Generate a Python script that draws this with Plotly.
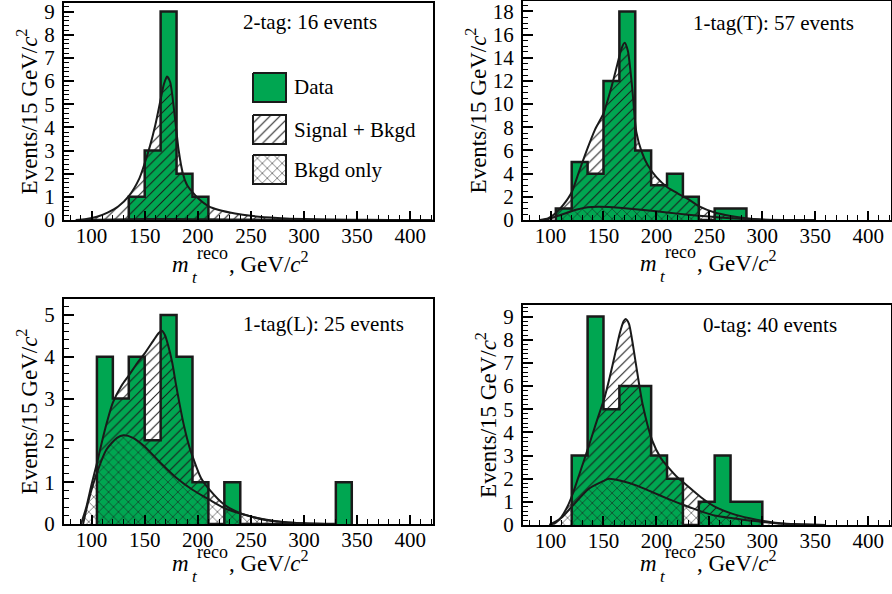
import plotly.graph_objects as go

W, H = 892, 594
GREEN = "#00A651"
INK = "#1a1a1a"
FONT = "Liberation Serif, Times New Roman, serif"
BIN_WIDTH = 15
CLEAR = "rgba(0,0,0,0)"

# ---------------- data ----------------
# 2-tag
BINS_2TAG = [135, 150, 165, 180, 195]
COUNTS_2TAG = [1, 3, 9, 2, 1]
SB_X_2TAG = [85, 95, 105, 115, 125, 135, 145, 150, 155, 160, 165, 168, 171, 174, 178,
             182, 186, 190, 195, 200, 210, 220, 235, 250, 275, 300, 340, 380, 421]
SB_Y_2TAG = [0.0, 0.04, 0.14, 0.32, 0.58, 1.03, 1.8, 2.45, 3.2, 4.1, 5.2, 5.85, 6.2, 5.95, 4.6,
             3.0, 2.0, 1.5, 1.2, 0.95, 0.6, 0.43, 0.28, 0.18, 0.09, 0.04, 0.015, 0.005, 0.0]
BG_X_2TAG = [90, 120, 150, 180, 210, 250, 300, 350]
BG_Y_2TAG = [0.0, 0.02, 0.04, 0.04, 0.03, 0.02, 0.01, 0.0]

# 1-tag(T)
BINS_1T = [105, 120, 135, 150, 165, 180, 195, 210, 225, 240, 255, 270]
COUNTS_1T = [1, 5, 4, 12, 18, 6, 3, 4, 2, 0, 1, 1]
SB_X_1T = [90, 98, 105, 112, 120, 127, 135, 142, 150, 157, 163, 167, 170, 173, 177, 181,
           186, 192, 200, 210, 220, 230, 240, 255, 270, 285, 300, 320, 350]
SB_Y_1T = [0.0, 0.15, 0.6, 1.3, 2.4, 4.2, 6.2, 7.8, 9.2, 11.3, 13.4, 14.8, 15.3, 14.6, 11.5, 7.6,
           5.9, 4.7, 3.7, 2.85, 2.3, 1.8, 1.2, 0.65, 0.35, 0.15, 0.05, 0.01, 0.0]
BG_X_1T = [95, 105, 115, 125, 135, 145, 155, 165, 180, 200, 220, 240, 260, 280, 300, 320]
BG_Y_1T = [0.0, 0.3, 0.6, 0.9, 1.1, 1.15, 1.12, 1.05, 0.92, 0.75, 0.55, 0.37, 0.22, 0.1, 0.03, 0.0]

# 1-tag(L)
BINS_1L = [105, 120, 135, 150, 165, 180, 195, 210, 225, 240, 255, 270, 285, 300, 315, 330]
COUNTS_1L = [4, 3, 4, 2, 5, 4, 1, 0, 1, 0, 0, 0, 0, 0, 0, 1]
SB_X_1L = [90, 95, 100, 105, 112, 120, 128, 135, 143, 150, 158, 163, 166, 169, 172, 176,
           179, 183, 187, 192, 196, 203, 211, 225, 240, 255, 265, 280, 300, 320]
SB_Y_1L = [0.0, 0.4, 0.95, 1.45, 2.2, 2.9, 3.3, 3.55, 3.85, 4.08, 4.38, 4.56, 4.62, 4.52, 4.28, 3.85,
           3.4, 2.85, 2.35, 1.85, 1.55, 1.1, 0.82, 0.46, 0.26, 0.15, 0.1, 0.05, 0.015, 0.0]
BG_X_1L = [92, 97, 105, 114, 124, 130, 139, 150, 165, 180, 195, 211, 225, 240, 265, 296, 320]
BG_Y_1L = [0.0, 0.55, 1.22, 1.78, 2.06, 2.12, 2.06, 1.85, 1.46, 1.1, 0.82, 0.58, 0.38, 0.25, 0.09, 0.02, 0.0]

# 0-tag
BINS_0T = [120, 135, 150, 165, 180, 195, 210, 225, 240, 255, 270, 285]
COUNTS_0T = [3, 9, 5, 6, 6, 3, 2, 0, 1, 3, 1, 1]
SB_X_0T = [99, 105, 110, 116, 121, 128, 136, 143, 151, 156, 161, 165.5, 169, 171, 174, 177,
           181.5, 187, 196, 204, 211, 220, 227, 242, 256, 272, 288, 303, 320, 340, 360]
SB_Y_0T = [0.0, 0.1, 0.33, 0.8, 1.35, 2.3, 3.4, 4.4, 5.5, 6.4, 7.4, 8.3, 8.8, 8.9, 8.7, 8.0,
           6.7, 5.2, 3.65, 2.9, 2.5, 2.05, 1.78, 1.2, 0.77, 0.48, 0.29, 0.16, 0.06, 0.02, 0.0]
BG_X_0T = [99, 110, 121, 136, 151, 155, 165.5, 181.5, 196, 211, 227, 242, 256, 272, 288, 303, 320, 340, 360]
BG_Y_0T = [0.0, 0.3, 0.84, 1.56, 1.92, 2.0, 1.92, 1.7, 1.42, 1.13, 0.84, 0.59, 0.4, 0.29, 0.19, 0.12, 0.05, 0.02, 0.0]

LABELS = ["2-tag: 16 events", "1-tag(T): 57 events", "1-tag(L): 25 events", "0-tag: 40 events"]
LEGEND_NAMES = ["Data", "Signal + Bkgd", "Bkgd only"]
X_RANGE = [74, 421.5]
# x-axis title pieces: symbol, subscript, superscript, units
XT_MAIN = "<i>m</i>"
XT_SUB = "<i>t</i>"
XT_SUP = "reco"
XT_UNIT = ", GeV/<i>c</i><sup>2</sup>"
Y_TITLE = "Events/15 GeV/<i>c</i><sup>2</sup>"


def hatch(shape, size=7):
    return dict(shape=shape, fgcolor=INK, bgcolor=CLEAR, fgopacity=1, size=size,
                solidity=0.15, fillmode="replace")


# ---------------- layout of panels (pixels) ----------------
panels = [
    dict(lo=BINS_2TAG, n=COUNTS_2TAG, sbx=SB_X_2TAG, sby=SB_Y_2TAG, bgx=BG_X_2TAG, bgy=BG_Y_2TAG,
         px=(64, 433), py=(3, 220), ymax=9.37, dt=1, mdt=0.2, lab=(310, 22), xt=(242, 272)),
    dict(lo=BINS_1T, n=COUNTS_1T, sbx=SB_X_1T, sby=SB_Y_1T, bgx=BG_X_1T, bgy=BG_Y_1T,
         px=(523, 891), py=(1, 220), ymax=18.9, dt=2, mdt=0.5, lab=(773, 23), xt=(710, 271)),
    dict(lo=BINS_1L, n=COUNTS_1L, sbx=SB_X_1L, sby=SB_Y_1L, bgx=BG_X_1L, bgy=BG_Y_1L,
         px=(64, 433), py=(299, 524), ymax=5.38, dt=1, mdt=0.2, lab=(323, 324), xt=(242, 571)),
    dict(lo=BINS_0T, n=COUNTS_0T, sbx=SB_X_0T, sby=SB_Y_0T, bgx=BG_X_0T, bgy=BG_Y_0T,
         px=(523, 891), py=(305, 525), ymax=9.5, dt=1, mdt=0.2, lab=(770, 325), xt=(710, 571)),
]


def text_left(text, left_px, baseline_px, size):
    bottom = baseline_px + 0.216 * size
    return dict(text=text, x=left_px / W, y=1 - bottom / H, xref="paper", yref="paper",
                xanchor="left", yanchor="bottom", showarrow=False, borderpad=0, borderwidth=0,
                font=dict(family=FONT, size=size, color="black"))


def text_center(text, cx_px, baseline_px, size):
    cy = baseline_px - 0.3375 * size
    return dict(text=text, x=cx_px / W, y=1 - cy / H, xref="paper", yref="paper",
                xanchor="center", yanchor="middle", showarrow=False, borderpad=0, borderwidth=0,
                font=dict(family=FONT, size=size, color="black"))


fig = go.Figure()
annotations = []
for i, p in enumerate(panels, start=1):
    xa = "x" if i == 1 else f"x{i}"
    ya = "y" if i == 1 else f"y{i}"
    edges_end = p["lo"][-1] + BIN_WIDTH
    sx = [p["lo"][0]] + list(p["lo"]) + [edges_end]
    sy = [0] + list(p["n"]) + [0]
    # data (green step area)
    fig.add_trace(go.Scatter(x=sx, y=sy, xaxis=xa, yaxis=ya, mode="lines",
                             line=dict(width=0, shape="hv"), fill="tozeroy",
                             fillcolor=GREEN, hoverinfo="skip", showlegend=False))
    # background only (cross hatch)
    fig.add_trace(go.Scatter(x=p["bgx"], y=p["bgy"], xaxis=xa, yaxis=ya, mode="lines",
                             line=dict(color=INK, width=2, shape="spline", smoothing=0.7),
                             fill="tozeroy", fillcolor=CLEAR, fillpattern=hatch("x"),
                             hoverinfo="skip", showlegend=False))
    # signal + background (single hatch)
    fig.add_trace(go.Scatter(x=p["sbx"], y=p["sby"], xaxis=xa, yaxis=ya, mode="lines",
                             line=dict(color=INK, width=2, shape="spline", smoothing=0.7),
                             fill="tonexty", fillcolor=CLEAR, fillpattern=hatch("/"),
                             hoverinfo="skip", showlegend=False))
    # data outline
    fig.add_trace(go.Scatter(x=sx, y=sy, xaxis=xa, yaxis=ya, mode="lines",
                             line=dict(color=INK, width=2.5, shape="hv"),
                             hoverinfo="skip", showlegend=False))

    axcommon = dict(showline=True, linecolor="black", linewidth=2.2, mirror=True,
                    ticks="inside", tickcolor="black", showgrid=False, zeroline=False,
                    ticklabeloverflow="allow",
                    tickfont=dict(family=FONT, size=21, color="black"), automargin=False)
    fig.update_layout(**{
        ("xaxis" if i == 1 else f"xaxis{i}"): dict(
            domain=[p["px"][0] / W, p["px"][1] / W], range=X_RANGE, anchor=ya,
            dtick=50, tick0=100, ticklen=9, tickwidth=1.5, ticklabelstandoff=-4,
            minor=dict(dtick=10, ticklen=5, ticks="inside", tickcolor="black", tickwidth=1.2),
            **axcommon),
        ("yaxis" if i == 1 else f"yaxis{i}"): dict(
            domain=[1 - p["py"][1] / H, 1 - p["py"][0] / H], range=[0, p["ymax"]], anchor=xa,
            dtick=p["dt"], tick0=0, ticklen=10, tickwidth=1.5, ticklabelstandoff=3,
            minor=dict(dtick=p["mdt"], ticklen=5, ticks="inside", tickcolor="black", tickwidth=1.2),
            title=dict(text=Y_TITLE, font=dict(family=FONT, size=23, color="black"), standoff=0),
            **axcommon),
    })
    annotations.append(dict(text=LABELS[i - 1], x=p["lab"][0] / W, y=1 - p["lab"][1] / H,
                            xref="paper", yref="paper", xanchor="center", yanchor="middle",
                            showarrow=False, font=dict(family=FONT, size=21, color="black")))
    # x-axis title with stacked sub/superscript
    cx, base = p["xt"]
    annotations.append(text_center(XT_MAIN, cx - 62, base, 23))
    annotations.append(text_center(XT_SUB, cx - 47, base + 11, 17))
    annotations.append(text_center(XT_SUP, cx - 30, base - 13, 18))
    annotations.append(text_left(XT_UNIT, cx - 13, base, 23))

# ---------------- legend (drawn in pixel space overlay) ----------------
legend_rows = [(73, 102), (115, 144), (155, 184)]
legend_x = (253, 286)
styles = [dict(fillcolor=GREEN), dict(fillcolor=CLEAR, fillpattern=hatch("/")),
          dict(fillcolor=CLEAR, fillpattern=hatch("x"))]
for (y0, y1), st, name in zip(legend_rows, styles, LEGEND_NAMES):
    fig.add_trace(go.Scatter(x=[legend_x[0], legend_x[1], legend_x[1], legend_x[0], legend_x[0]],
                             y=[y0, y0, y1, y1, y0], xaxis="x5", yaxis="y5", mode="lines",
                             line=dict(color=INK, width=2), fill="toself", hoverinfo="skip",
                             showlegend=False, **st))
    annotations.append(dict(text=name, x=(legend_x[1] + 6) / W, y=1 - ((y0 + y1) / 2) / H,
                            xref="paper", yref="paper", xanchor="left", yanchor="middle",
                            showarrow=False, font=dict(family=FONT, size=21, color="black")))

fig.update_layout(
    xaxis5=dict(domain=[0, 1], range=[0, W], visible=False, fixedrange=True, anchor="y5"),
    yaxis5=dict(domain=[0, 1], range=[H, 0], visible=False, fixedrange=True, anchor="x5"),
    width=W, height=H, margin=dict(l=0, r=0, t=0, b=0),
    paper_bgcolor="white", plot_bgcolor="rgba(0,0,0,0)",
    annotations=annotations, showlegend=False,
    font=dict(family=FONT, color="black"),
)

fig.write_html("out.html")
